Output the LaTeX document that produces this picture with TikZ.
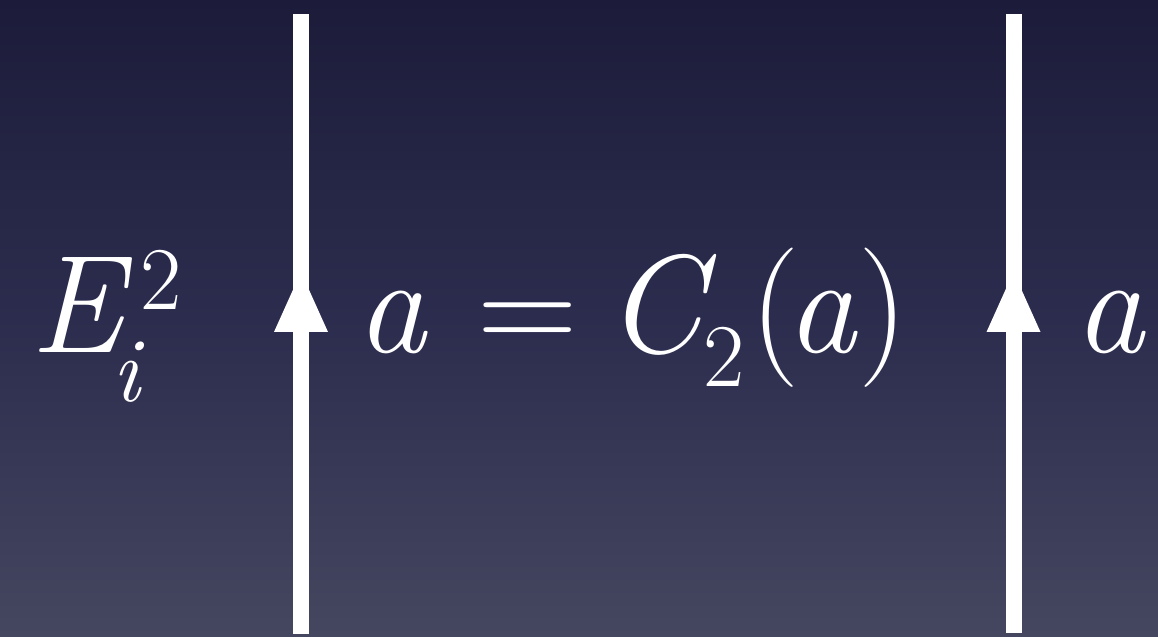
\documentclass[tikz,border=0pt]{standalone}
\definecolor{bgtop}{HTML}{1C1B3A}
\definecolor{bgmid}{HTML}{2C2D4E}
\definecolor{bgbot}{HTML}{45465F}
\newcommand{\supfont}{\fontsize{90}{90}\selectfont\upshape}
\newcommand{\subitfont}{\fontsize{92}{92}\selectfont\itshape}
\begin{document}
\begin{tikzpicture}[x=1bp,y=1bp,
  big/.style={text=white,inner sep=0pt,outer sep=0pt,anchor=base west,font=\fontsize{140}{140}\selectfont\itshape},
  bigup/.style={text=white,inner sep=0pt,outer sep=0pt,anchor=base west,font=\fontsize{140}{140}\selectfont\upshape},
  strand/.style={draw=white,line width=16bp},
  head/.style={fill=white,draw=none}]
\shade[top color=bgtop,bottom color=bgbot,middle color=bgmid] (0,0) rectangle (1158,637);
\useasboundingbox (0,0) rectangle (1158,637);
% strands
\coordinate (t1) at (301,623);
\coordinate (b1) at (301,3);
\coordinate (t2) at (1013.5,623);
\coordinate (b2) at (1013.5,4);
\draw[strand] (b1) -- (t1);
\draw[strand] (b2) -- (t2);
\fill[head] (301,365) -- (274,305) -- (328,305) -- cycle;
\fill[head] (1013.5,365) -- (986.5,305) -- (1040.5,305) -- cycle;
% labels
\node[big] (E) at (30,284) {\rlap{E}\rlap{\hspace{110bp}\raisebox{43bp}{\supfont 2}}\hspace{82bp}{\subitfont\raisebox{-49bp}{i}}};
\node[big] (a1) at (356,284) {a};
\node[bigup] (eq) at (477,284) {=};
\node[big] (C) at (605,284) {\rlap{C}\hspace{98bp}\raisebox{-34bp}{\supfont 2}};
\node[bigup] (lp) at (750,284) {(};
\node[big] (a2) at (786,284) {a};
\node[bigup] (rp) at (858,284) {)};
\node[big] (a3) at (1074,284) {a};
\end{tikzpicture}
\end{document}
